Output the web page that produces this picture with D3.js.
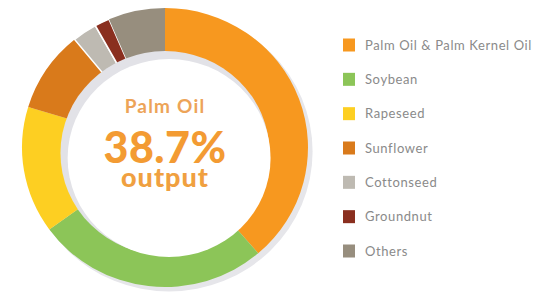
<!DOCTYPE html>
<html><head><meta charset="utf-8">
<script src="https://cdn.jsdelivr.net/npm/d3@7/dist/d3.min.js"></script>
<style>body{margin:0;background:#fff}svg{display:block}</style>
</head><body>
<svg id="c" width="536" height="303"></svg>
<script>
const categories = ["Palm Oil & Palm Kernel Oil","Soybean","Rapeseed","Sunflower","Cottonseed","Groundnut","Others"];
const values = [38.7, 26.3, 14.7, 9.4, 2.8, 1.7, 6.4];
const colors = ["#F7981F","#8CC558","#FDCF22","#D97A1B","#BEBAB2","#8A2F1F","#978E7E"];
const centerLines = ["Palm Oil","38.7%","output"];

const svg = d3.select("#c");
const cx = 165, cy = 147.5, outerR = 139.5, innerR = 80, holeR = 102, holeDy = 5.5;
const g = svg.append("g").attr("transform",`translate(${cx},${cy}) scale(1.025,1)`);

// outer shadow
g.append("circle").attr("cx",4).attr("cy",4).attr("r",outerR+0.5).attr("fill","#e6e6ea");

const pie = d3.pie().sort(null).value(d=>d);
const arc = d3.arc().innerRadius(innerR).outerRadius(outerR);
g.selectAll("path.s").data(pie(values)).join("path").attr("class","s")
  .attr("d",arc).attr("fill",(d,i)=>colors[i])
  .attr("stroke",(d,i)=> (i===4||i===5) ? "#fff" : "none").attr("stroke-width",1.5);

// inner hole with inset shadow
g.append("circle").attr("cy",holeDy).attr("r",holeR).attr("fill","#e2e2e7");
g.append("circle").attr("cx",4).attr("cy",holeDy+5).attr("r",holeR-3).attr("fill","#fff");

// center text
const t = svg.append("g").attr("text-anchor","middle").attr("font-family","Lato, 'Open Sans', sans-serif");
t.append("text").attr("x",cx).attr("y",113).attr("font-size",19).attr("font-weight",700)
  .attr("letter-spacing",1.2).attr("fill","#EDA458").text(centerLines[0]);
t.append("text").attr("x",cx).attr("y",163).attr("font-size",43).attr("font-weight",900)
  .attr("letter-spacing",0.5).attr("fill","#F39B33").text(centerLines[1]);
t.append("text").attr("x",cx).attr("y",187).attr("font-size",27).attr("font-weight",900)
  .attr("letter-spacing",1).attr("fill","#F0A040").text(centerLines[2]);

// legend
const ly = d3.scalePoint().domain(categories).range([45,251]);
const lg = svg.append("g").selectAll("g").data(categories).join("g")
  .attr("transform",d=>`translate(343,${ly(d)})`);
lg.append("rect").attr("x",0).attr("y",-6.5).attr("width",12).attr("height",13)
  .attr("fill",(d,i)=>colors[i]);
lg.append("text").attr("x",22).attr("y",4.5).attr("font-family","Lato, sans-serif")
  .attr("font-size",13).attr("letter-spacing",0.6).attr("fill","#8a8a8a").text(d=>d);
</script>
</body></html>
